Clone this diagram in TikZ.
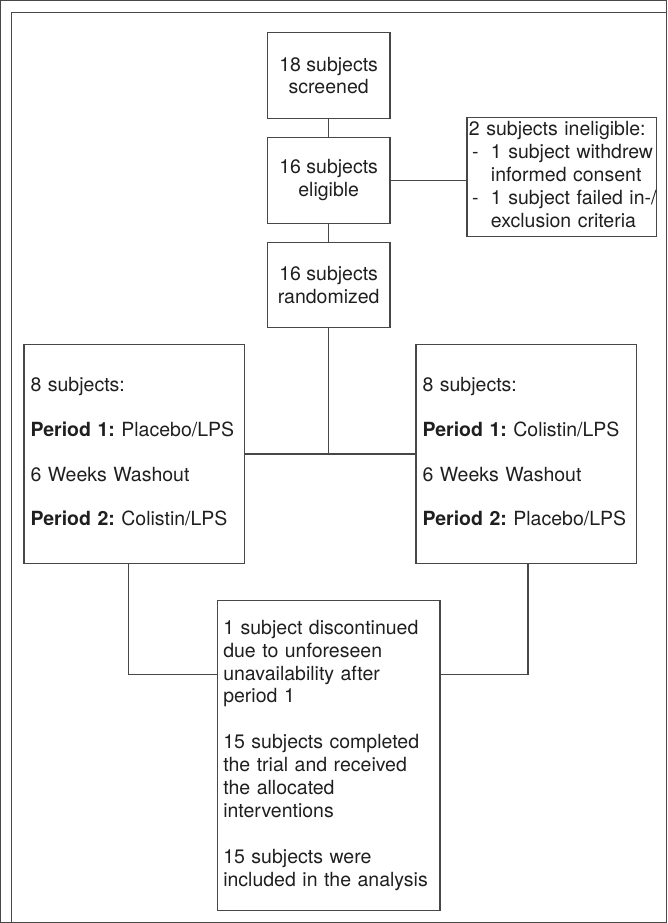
\documentclass[tikz,border=0pt]{standalone}
\usepackage{fontspec}
\setmainfont{TeX Gyre Heros}
\usepackage{tikz}
\frenchspacing
\tikzstyle{every path}=[line width=1.2bp, draw=black!72]
\tikzstyle{every node}=[text=black!88, font=\fontsize{19.6}{23}\selectfont]
\tikzstyle{stepbox}=[draw, rectangle, align=center, inner sep=0pt, minimum width=123bp]
\tikzstyle{notebox}=[draw, rectangle, align=left, inner xsep=2bp, inner ysep=0pt, text width=186bp, minimum width=190bp, minimum height=119bp]
\tikzstyle{armbox}=[draw, rectangle, align=left, inner xsep=6.5bp, inner ysep=0pt, text width=208bp, minimum width=221bp, minimum height=219bp]
\tikzstyle{endbox}=[draw, rectangle, align=left, inner xsep=6bp, inner ysep=0pt, text width=211bp, minimum width=223bp, minimum height=310bp]
\newcommand{\boxlines}[1]{\begin{tabular}{@{}l@{}}#1\end{tabular}}
\usetikzlibrary{positioning}

\begin{document}
\begin{tikzpicture}[x=1bp, y=-1bp]
            \useasboundingbox (0,0) rectangle (667,923);
            \draw (11,923) -- (11,12) -- (667,12);
            \node[stepbox, minimum height=86.6bp] (screened) at (328.5, 75) {18 subjects\\screened};
            \node[stepbox, minimum height=86bp] (eligible) at (328.5, 180) {16 subjects\\eligible};
            \node[stepbox, minimum height=85bp] (randomized) at (328.5, 284.5) {16 subjects\\randomized};
            \node[notebox] (ineligible) at (562, 176.5) {\boxlines{2 subjects ineligible:\\\makebox[22bp][l]{\,-}1 subject withdrew\\\hspace*{22bp}informed consent\\\makebox[22bp][l]{\,-}1 subject failed in-/\\\hspace*{22bp}exclusion criteria}};
            \node[armbox] (armA) at (134, 454) {\boxlines{8 subjects:\\[22bp]\textbf{Period 1:} Placebo/LPS\\[22bp]6 Weeks Washout\\[22bp]\textbf{Period 2:} Colistin/LPS}};
            \node[armbox] (armB) at (526.5, 454) {\boxlines{8 subjects:\\[22bp]\textbf{Period 1:} Colistin/LPS\\[22bp]6 Weeks Washout\\[22bp]\textbf{Period 2:} Placebo/LPS}};
            \node[endbox] (final) at (328.5, 756) {\boxlines{1 subject discontinued\\due to unforeseen\\unavailability after\\period 1\\[23bp]15 subjects completed\\the trial and received\\the allocated\\interventions\\[23bp]15 subjects were\\included in the analysis}};
            \coordinate (turnA) at (128, 675);
            \coordinate (turnB) at (528, 675);
            \draw (screened) -- (eligible);
            \draw (eligible) -- (randomized);
            \draw (eligible.east) -- (eligible.east -| ineligible.west);
            \draw (armA.east) -- (armB.west);
            \draw (randomized.south) -- (randomized.south |- armA.east);
            \draw (armA.south -| turnA) -- (turnA) -- (turnA -| final.west);
            \draw (armB.south -| turnB) -- (turnB) -- (turnB -| final.east);
        \end{tikzpicture}
\end{document}
